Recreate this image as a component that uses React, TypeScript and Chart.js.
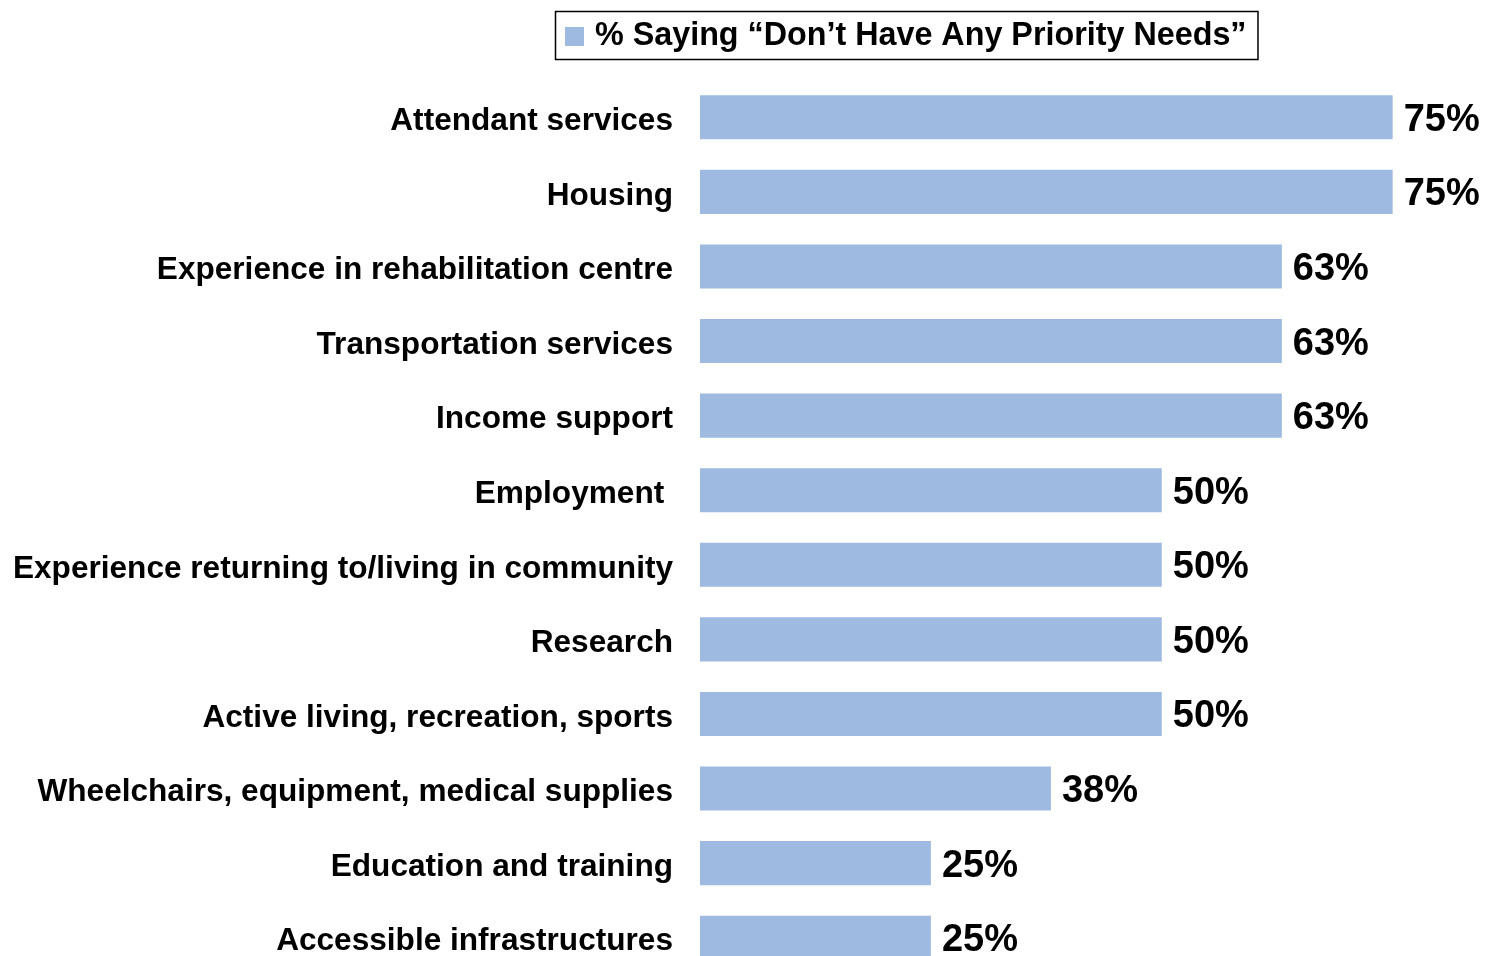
import React, { useEffect, useRef } from "react";
import { Chart, registerables } from "chart.js";

Chart.register(...registerables);

const categories = [
  "Attendant services",
  "Housing",
  "Experience in rehabilitation centre",
  "Transportation services",
  "Income support",
  "Employment ",
  "Experience returning to/living in community",
  "Research",
  "Active living, recreation, sports",
  "Wheelchairs, equipment, medical supplies",
  "Education and training",
  "Accessible infrastructures",
];
const values = [75, 75, 63, 63, 63, 50, 50, 50, 50, 38, 25, 25];
const valueLabels = ["75%", "75%", "63%", "63%", "63%", "50%", "50%", "50%", "50%", "38%", "25%", "25%"];
const seriesName = "% Saying \u201CDon\u2019t Have Any Priority Needs\u201D";

const FONT = "'Liberation Sans', Arial, sans-serif";
const BAR_COLOR = "#9EBAE0";

export default function App() {
  const ref = useRef<HTMLCanvasElement | null>(null);
  useEffect(() => {
    if (!ref.current) return;
    const dataLabels = {
      id: "dataLabels",
      afterDatasetsDraw(chart: any) {
        const ctx = chart.ctx;
        const meta = chart.getDatasetMeta(0);
        ctx.save();
        ctx.font = `bold 38px ${FONT}`;
        ctx.fillStyle = "#000";
        ctx.textAlign = "left";
        ctx.textBaseline = "middle";
        meta.data.forEach((bar: any, i: number) => {
          ctx.fillText(valueLabels[i], bar.x + 11, bar.y + 3);
        });
        ctx.restore();
      },
    };
    const boxLegend = {
      id: "boxLegend",
      afterDraw(chart: any) {
        const ctx = chart.ctx;
        ctx.save();
        ctx.font = `bold 32.3px ${FONT}`;
        const tw = ctx.measureText(seriesName).width;
        const sq = 19;
        const w = 10 + sq + 11 + tw + 11;
        const cx = 906;
        const left = Math.round(cx - w / 2);
        const top = 11;
        const h = 48;
        ctx.strokeStyle = "#000";
        ctx.lineWidth = 1.5;
        ctx.strokeRect(left + 0.5, top + 0.5, w, h);
        ctx.fillStyle = BAR_COLOR;
        ctx.fillRect(left + 10, top + 16, sq, sq);
        ctx.fillStyle = "#000";
        ctx.textAlign = "left";
        ctx.textBaseline = "middle";
        ctx.fillText(seriesName, left + 10 + sq + 11, top + h / 2 + 1);
        ctx.restore();
      },
    };
    const chart = new Chart(ref.current, {
      type: "bar",
      data: {
        labels: categories,
        datasets: [
          {
            label: seriesName,
            data: values,
            backgroundColor: BAR_COLOR,
            borderWidth: 0,
            barPercentage: 0.59,
            categoryPercentage: 1,
          },
        ],
      },
      options: {
        indexAxis: "y",
        responsive: false,
        animation: false,
        layout: { padding: { top: 80, bottom: 0, left: 0, right: 2 } },
        plugins: {
          legend: { display: false },
          tooltip: { enabled: false },
        },
        scales: {
          x: {
            display: false,
            min: 0,
            max: 85,
          },
          y: {
            grid: { display: false, drawTicks: false },
            border: { display: false },
            ticks: {
              color: "#000",
              padding: 27,
              labelOffset: 4,
              font: { family: FONT, size: 31.6, weight: "bold" },
            },
            afterFit(scale: any) {
              scale.width = 700;
              scale.paddingTop = 0;
              scale.paddingBottom = 0;
            },
          },
        },
      },
      plugins: [dataLabels, boxLegend],
    });
    return () => chart.destroy();
  }, []);
  return (
    <div style={{ position: "fixed", left: 0, top: 0, width: 1487, height: 956, overflow: "hidden", background: "#fff" }}>
      <canvas ref={ref} width={1487} height={975} style={{ display: "block" }} />
    </div>
  );
}
